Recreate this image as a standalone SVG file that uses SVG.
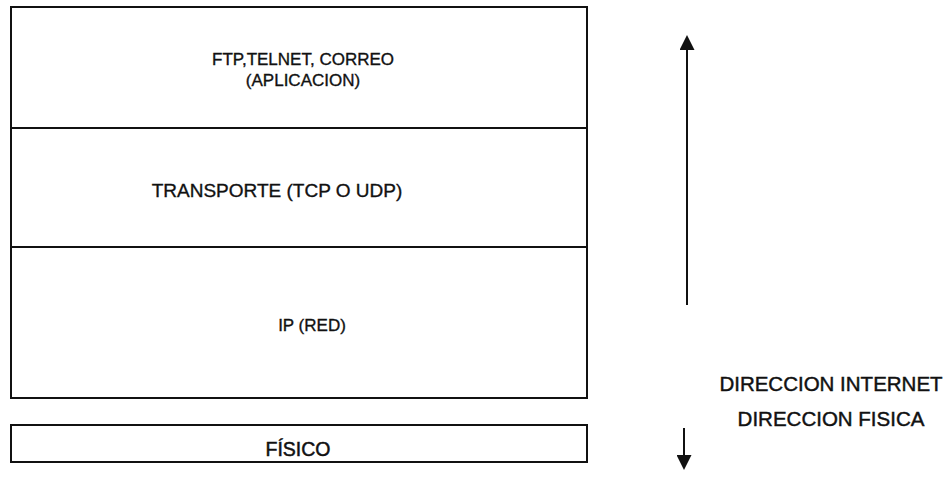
<svg xmlns="http://www.w3.org/2000/svg" width="952" height="489" viewBox="0 0 952 489">
  <style>
    .frame { fill: #ffffff; stroke: #111111; stroke-width: 2; }
    .label { font-family: "Liberation Sans", Arial, sans-serif; font-size: 17px; fill: #111111; stroke: #111111; stroke-width: 0.35; text-anchor: middle; }
    .big { font-size: 19px; }
    .phys { font-size: 19.5px; stroke-width: 0.5; }
    .side { font-family: "Liberation Sans", Arial, sans-serif; font-size: 20.5px; fill: #111111; stroke: #111111; stroke-width: 0.45; text-anchor: middle; }
    .shaft { stroke: #111111; stroke-width: 2; fill: none; }
  </style>
  <defs>
    <marker id="head" viewBox="0 0 16 15" refX="0" refY="7.5" markerWidth="16" markerHeight="15" markerUnits="userSpaceOnUse" orient="auto">
      <path d="M0,0 L15,7.5 L0,15 Z" fill="#111111"/>
    </marker>
  </defs>

  <rect width="952" height="489" fill="#ffffff"/>

  <!-- protocol stack: three stacked layers in one frame -->
  <g id="aplicacion">
    <rect class="frame" x="11" y="7" width="576" height="121"/>
    <text class="label" x="303" y="65">FTP,TELNET, CORREO</text>
    <text class="label" x="303" y="86">(APLICACION)</text>
  </g>
  <g id="transporte">
    <rect class="frame" x="11" y="128" width="576" height="119"/>
    <text class="label big" x="277" y="197">TRANSPORTE (TCP O UDP)</text>
  </g>
  <g id="red">
    <rect class="frame" x="11" y="247" width="576" height="151"/>
    <text class="label" x="312" y="331">IP (RED)</text>
  </g>
  <g id="fisico">
    <rect class="frame" x="11" y="425" width="576" height="37"/>
    <text class="label phys" x="298" y="456">FÍSICO</text>
  </g>

  <!-- address direction labels -->
  <g id="direcciones">
    <text class="side" x="831" y="391">DIRECCION INTERNET</text>
    <text class="side" x="831" y="426">DIRECCION FISICA</text>
  </g>

  <!-- direction arrows -->
  <g id="connectors">
    <line class="shaft" x1="687" y1="305" x2="687" y2="50" marker-end="url(#head)"/>
    <line class="shaft" x1="684" y1="428" x2="684" y2="455" marker-end="url(#head)"/>
  </g>
</svg>
